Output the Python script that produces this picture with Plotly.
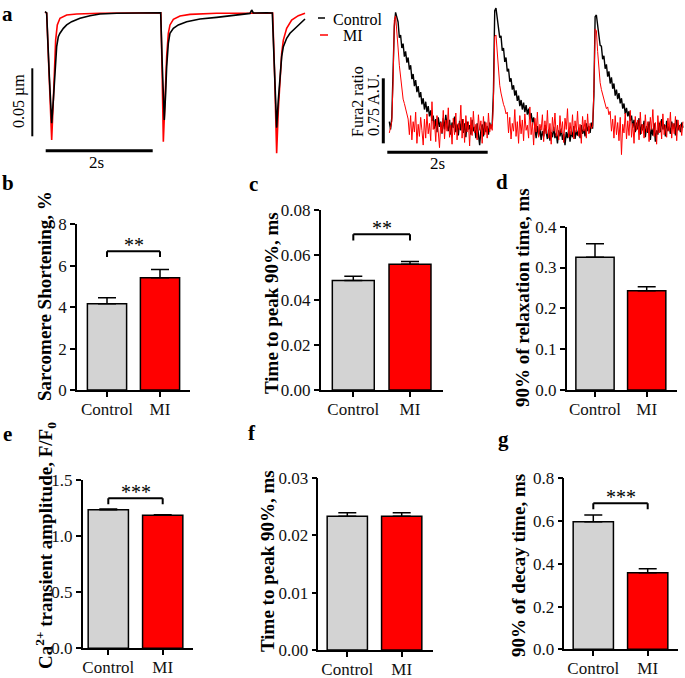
import plotly.graph_objects as go

W, H = 685, 678
SERIF = "Liberation Serif"

# ---- a (left): sarcomere length change, um, against time, s ----
sl_ctrl_t = [0.000, 0.031, 0.081, 0.125, 0.156, 0.187, 0.218, 0.249, 0.280, 0.343,
             0.405, 0.498, 0.654, 0.841, 1.028, 1.340, 1.650, 1.900, 2.100, 2.162,
             2.193, 2.230, 2.255, 2.274, 2.305, 2.336, 2.399, 2.492, 2.648, 2.897,
             3.209, 3.520, 3.832, 3.863, 3.894, 4.143, 4.237,
             4.249, 4.287, 4.330, 4.361, 4.393, 4.424, 4.455, 4.517, 4.579, 4.673,
             4.766, 4.860]
sl_ctrl = [0.0005, -0.0005, -0.047, -0.0816, -0.0645, -0.040, -0.0253, -0.0179, -0.0154, -0.0118,
           -0.0093, -0.0069, -0.0044, -0.0025, -0.0013, -0.0007, -0.0004, -0.0002, 0.0000, -0.0003,
           -0.040, -0.0792, -0.0596, -0.040, -0.0228, -0.0154, -0.0118, -0.0093, -0.0069, -0.0049,
           -0.0037, -0.0025, -0.0008, 0.0017, -0.0005, -0.0003, -0.0003,
           -0.0005, -0.040, -0.0848, -0.0645, -0.0449, -0.0326, -0.0253, -0.0191, -0.0154, -0.0118,
           -0.0081, -0.0049]
sl_mi_t = [0.000, 0.031, 0.081, 0.125, 0.156, 0.174, 0.199, 0.230, 0.280, 0.405,
           0.592, 1.028, 1.650, 2.150,
           2.165, 2.190, 2.212, 2.243, 2.274, 2.305, 2.336, 2.399, 2.523, 2.710,
           3.209, 3.800, 4.206,
           4.255, 4.293, 4.330, 4.361, 4.393, 4.424, 4.455, 4.517, 4.610, 4.735, 4.860]
sl_mi = [0.0000, -0.0005, -0.050, -0.0939, -0.0645, -0.040, -0.0204, -0.0093, -0.0044, -0.0020,
         -0.0013, -0.0007, -0.0003, -0.0003,
         -0.0003, -0.045, -0.0951, -0.0645, -0.0326, -0.0154, -0.0093, -0.0052, -0.0027, -0.0015,
         -0.0007, -0.0007, -0.0005,
         -0.0005, -0.047, -0.1037, -0.0718, -0.0473, -0.0301, -0.0204, -0.0118, -0.0057, -0.0025, -0.0007]

# ---- a (right): Fura2 ratio, A.U., one sample every 0.025 s ----
fura_dt = 0.025
fura_ctrl = [1.05, 0.96, 1.10, 1.55, 2.15, 2.31, 2.24, 2.20, 2.02, 2.05,
             1.90, 1.95, 1.80, 1.86, 1.73, 1.79, 1.65, 1.70, 1.54, 1.60,
             1.46, 1.53, 1.39, 1.46, 1.33, 1.39, 1.25, 1.32, 1.19, 1.28,
             1.16, 1.23, 1.11, 1.18, 1.06,
             1.12, 0.97, 1.08, 0.93, 1.10, 0.99, 1.05, 0.91, 1.09, 0.96,
             1.13, 1.00, 0.94, 1.07, 0.90, 1.04, 0.98, 1.11, 0.93, 1.02,
             0.89, 1.06, 0.95, 1.08, 0.92, 1.03, 0.87, 1.05, 0.96, 1.01,
             0.90, 1.07, 0.94, 0.99, 0.86, 1.03, 0.92, 0.78, 0.95, 1.02,
             0.88, 1.05, 0.93, 1.00, 0.90, 1.04, 0.97,
             1.02, 1.40, 2.33, 2.36,
             2.22, 2.16, 2.02, 2.04, 1.87, 1.90, 1.74, 1.79, 1.63, 1.66,
             1.51, 1.55, 1.42, 1.47, 1.35, 1.41, 1.29, 1.35, 1.23, 1.30,
             1.19, 1.27, 1.16, 1.24, 1.13, 1.20, 1.08, 1.15, 1.04, 1.10,
             0.95, 0.86, 1.00, 0.89, 0.97, 0.84, 0.94, 0.88, 1.01, 0.90,
             0.85, 0.96, 0.83, 0.93, 0.87, 0.99, 0.86, 0.92, 0.80, 0.95,
             0.88, 0.97, 0.84, 0.91, 0.78, 0.93, 0.86, 0.96, 0.82, 0.94,
             0.87, 1.00, 0.85, 0.95, 0.89, 0.98, 0.86, 1.01, 0.91, 0.97,
             0.88, 1.03, 0.94, 1.00, 0.92, 1.04,
             0.97, 1.35, 2.26, 2.28,
             2.17, 2.10, 1.93, 1.92, 1.77, 1.81, 1.66, 1.71, 1.57, 1.63,
             1.49, 1.56, 1.43, 1.49, 1.35, 1.42, 1.31, 1.38, 1.26, 1.32,
             1.20, 1.26, 1.14, 1.21, 1.11, 1.17, 1.06, 1.12,
             0.98, 1.07, 0.93, 1.04, 0.96, 1.09, 0.90, 1.02, 0.95, 1.06,
             0.87, 1.00, 0.92, 1.05, 0.84, 0.97, 0.89, 1.03, 0.82, 0.95,
             0.90, 1.04, 0.93, 1.08, 0.96, 1.02, 0.88, 1.06, 0.94, 1.00,
             0.91, 1.05, 0.97, 1.03, 0.89, 1.07, 0.95, 1.01, 0.93, 1.04,
             0.98]
fura_mi = [0.92, 0.98, 1.05, 1.50, 2.22, 2.27, 2.12, 1.90, 1.70, 1.54,
           1.42, 1.31, 1.26, 1.20, 1.17, 1.08,
           0.90, 1.12, 0.84, 1.05, 0.93, 1.16, 0.80, 1.02, 0.88, 1.10,
           0.95, 0.78, 1.08, 0.86, 1.14, 0.91, 1.03, 0.83, 1.28, 0.96,
           1.06, 0.82, 1.12, 0.88, 0.75, 1.04, 0.92, 1.18, 0.85, 1.07,
           0.94, 1.21, 0.87, 1.01, 0.79, 1.09, 0.90, 1.15, 0.84, 1.03,
           0.96, 1.24, 0.86, 1.08, 0.81, 1.12, 0.93, 1.05, 0.77, 1.10,
           0.89, 1.17, 0.92, 1.02, 0.84, 1.13, 0.95, 1.06, 0.80, 1.11,
           0.90, 1.04, 0.86, 1.15, 0.93, 1.02,
           0.95, 1.30, 2.03, 2.05,
           1.82, 1.62, 1.47, 1.38, 1.30, 1.25, 1.21, 1.14, 1.16,
           0.92, 1.10, 0.85, 1.03, 0.94, 1.19, 0.88, 1.05, 0.80, 1.12,
           0.91, 1.07, 0.83, 1.14, 0.95, 1.01, 0.86, 1.22, 0.90, 1.04,
           0.78, 1.09, 0.93, 1.16, 0.87, 1.02, 0.95, 1.13, 0.82, 1.06,
           0.91, 1.18, 0.86, 1.03, 0.79, 1.10, 0.94, 1.15, 0.88, 1.01,
           0.84, 1.12, 0.92, 1.05, 0.81, 1.09, 0.96, 1.20, 0.87, 1.04,
           0.90, 1.13, 0.85, 1.06, 0.93, 1.17, 0.88, 1.02, 0.80, 1.11,
           0.94, 1.07, 0.86, 1.14, 0.91, 1.03, 0.97,
           1.00, 1.40, 2.12, 2.10,
           1.86, 1.64, 1.50, 1.42, 1.36, 1.29, 1.26, 1.20, 1.22, 1.13, 1.17,
           0.94, 1.08, 0.86, 1.12, 0.90, 1.04, 0.83, 1.10, 0.67, 1.02,
           0.92, 1.15, 0.85, 1.06, 0.89, 1.18, 0.87, 1.03, 0.80, 1.11,
           0.95, 1.07, 0.84, 1.16, 0.91, 1.02, 0.86, 1.13, 0.93, 1.05,
           0.82, 1.10, 0.96, 1.19, 0.88, 1.04, 0.79, 1.12, 0.92, 1.06,
           0.85, 1.14, 0.90, 1.01, 0.87, 1.09, 0.94, 1.16, 0.86, 1.03,
           0.91, 1.11, 0.83, 1.07, 0.95, 1.02, 0.89, 1.05]

sl_bar_um = 0.05
fura_bar_au = 0.75
bar_s = 2

# ---- b-g: means and SEM ----
groups = ["Control", "MI"]
shortening = [4.17, 5.42]
shortening_sem = [0.28, 0.40]
sl_peak_time = [0.0487, 0.0559]
sl_peak_time_sem = [0.0018, 0.0012]
sl_relax_time = [0.325, 0.243]
sl_relax_time_sem = [0.033, 0.010]
ca_amplitude = [1.235, 1.185]
ca_amplitude_sem = [0.006, 0.005]
ca_peak_time = [0.0233, 0.0233]
ca_peak_time_sem = [0.0006, 0.0006]
ca_decay_time = [0.597, 0.358]
ca_decay_time_sem = [0.031, 0.019]


def fx(p):
    return p / W


def fy(p):
    return 1 - p / H


fig = go.Figure()
shapes = []
notes = []

# left traces: 53.5 px per s, 1360 px per um, origin at (45, 12.3)
fig.add_trace(go.Scatter(x=sl_mi_t, y=sl_mi, mode="lines", line=dict(color="red", width=1.6),
                         xaxis="x", yaxis="y"))
fig.add_trace(go.Scatter(x=sl_ctrl_t, y=sl_ctrl, mode="lines", line=dict(color="black", width=1.6),
                         xaxis="x", yaxis="y"))
# right traces: 50.2 px per s, 86.7 px per A.U., ratio 1.0 at py 126
fig.add_trace(go.Scatter(x=[i * fura_dt for i in range(len(fura_ctrl))], y=fura_ctrl, mode="lines",
                         line=dict(color="black", width=1.4), xaxis="x2", yaxis="y2"))
fig.add_trace(go.Scatter(x=[i * fura_dt for i in range(len(fura_mi))], y=fura_mi, mode="lines",
                         line=dict(color="red", width=1.0), xaxis="x2", yaxis="y2"))

hidden = dict(visible=False, fixedrange=True, automargin=False)
layout_axes = {
    "xaxis": dict(hidden, domain=[fx(28), fx(312)], range=[(28 - 45) / 53.5, (312 - 45) / 53.5]),
    "yaxis": dict(hidden, domain=[fy(165), fy(0)], range=[-(165 - 12.3) / 1360, 12.3 / 1360]),
    "xaxis2": dict(hidden, domain=[fx(370), fx(685)], range=[(370 - 389.3) / 50.2, (685 - 389.3) / 50.2]),
    "yaxis2": dict(hidden, domain=[fy(165), fy(0)], range=[1 + (126 - 165) / 86.7, 1 + 126 / 86.7]),
}

# scale bars
sx = (32.3 - 45) / 53.5
sy = -(68.3 - 12.3) / 1360
shapes.append(dict(type="line", xref="x", yref="y", x0=sx, x1=sx, y0=sy, y1=sy - sl_bar_um,
                   line=dict(color="black", width=2)))
hy = -(150.7 - 12.3) / 1360
shapes.append(dict(type="line", xref="x", yref="y", x0=0.013, x1=0.013 + bar_s, y0=hy, y1=hy,
                   line=dict(color="black", width=3)))
fx2 = (383.3 - 389.3) / 50.2
shapes.append(dict(type="line", xref="x2", yref="y2", x0=fx2, x1=fx2, y0=0.80, y1=0.80 + fura_bar_au,
                   line=dict(color="black", width=3)))
hy2 = 1 + (126 - 152.3) / 86.7
shapes.append(dict(type="line", xref="x2", yref="y2", x0=-0.04, x1=-0.04 + bar_s, y0=hy2, y1=hy2,
                   line=dict(color="black", width=3)))

# legend (short dashes as in the original)
shapes.append(dict(type="line", xref="paper", yref="paper", x0=fx(318), x1=fx(325), y0=fy(18), y1=fy(18),
                   line=dict(color="black", width=1.5)))
shapes.append(dict(type="line", xref="paper", yref="paper", x0=fx(320), x1=fx(328), y0=fy(35), y1=fy(35),
                   line=dict(color="red", width=1.5)))


def text(s, cx, cy, size=16, angle=0, bold=False):
    notes.append(dict(text="<b>%s</b>" % s if bold else s, x=fx(cx), y=fy(cy), xref="paper", yref="paper",
                      showarrow=False, textangle=angle, xanchor="center", yanchor="middle",
                      font=dict(family=SERIF, size=size, color="black")))


text("Control", 357, 19)
text("MI", 352.5, 36)
text("0.05 µm", 19, 101, angle=-90)
text("2s", 96, 162, size=17)
text("2s", 437, 164, size=17)
text("Fura2 ratio", 357, 102, angle=-90)
text("0.75 A.U.", 373, 105, angle=-90)

# bar panels: letter, values, sem, axis box px (x0, x1, ytop, ybottom), category px, ymax, dtick, format,
# title, title centre, significance level, stars
panels = [
    ("b", shortening, shortening_sem, (77, 190, 224.3, 390), (107, 160), 8, 2, "d",
     "Sarcomere Shortening, %", (45, 296), 6.70, "**"),
    ("c", sl_peak_time, sl_peak_time_sem, (320.7, 443, 210, 390), (353.3, 410), 0.08, 0.02, ".2f",
     "Time to peak 90%, ms", (272, 303), 0.0692, "**"),
    ("d", sl_relax_time, sl_relax_time_sem, (566.7, 676.7, 226.7, 390), (595, 646.7), 0.4, 0.1, ".1f",
     "90% of relaxation time, ms", (522, 298), None, ""),
    ("e", ca_amplitude, ca_amplitude_sem, (82.7, 193.3, 480, 648.3), (108.3, 162.7), 1.5, 0.5, ".1f",
     "Ca<sup>2+</sup> transient amplitude, F/F<sub>0</sub>", (45, 546), 1.337, "***"),
    ("f", ca_peak_time, ca_peak_time_sem, (318.3, 433.3, 477.7, 650), (347.3, 401.7), 0.03, 0.01, ".2f",
     "Time to peak 90%, ms", (267, 561), None, ""),
    ("g", ca_decay_time, ca_decay_time_sem, (564.3, 678.3, 478.3, 649.3), (593.3, 647.7), 0.8, 0.2, ".1f",
     "90% of decay time, ms", (518, 566), 0.683, "***"),
]
letters = {"a": (7, 14), "b": (8, 183), "c": (253, 184), "d": (502, 182), "e": (7, 434), "f": (252, 433),
           "g": (504, 439)}

axis_style = dict(showline=True, linecolor="black", linewidth=1.5, ticks="outside", ticklen=5, tickwidth=1.5,
                  tickcolor="black", showgrid=False, zeroline=False, fixedrange=True, automargin=False,
                  tickfont=dict(family=SERIF, size=17, color="#111"))

for k, (letter, vals, sem, box, cats, ymax, dtick, fmt, title, tpos, sig, stars) in enumerate(panels, start=3):
    x0, x1, yt, yb = box
    c0, c1 = cats
    step = c1 - c0
    fig.add_trace(go.Bar(x=groups, y=vals, width=0.74, xaxis="x%d" % k, yaxis="y%d" % k,
                         marker=dict(color=["#d3d3d3", "#ff0000"], line=dict(color="black", width=1.5)),
                         error_y=dict(type="data", symmetric=False, array=sem, arrayminus=[0, 0],
                                      color="black", thickness=1.5, width=9)))
    layout_axes["xaxis%d" % k] = dict(axis_style, domain=[fx(x0), fx(x1)], anchor="y%d" % k,
                                      range=[-(c0 - x0) / step, 1 + (x1 - c1) / step], ticklabelstandoff=-2)
    layout_axes["yaxis%d" % k] = dict(axis_style, domain=[fy(yb), fy(yt)], anchor="x%d" % k,
                                      range=[0, ymax], dtick=dtick, tickformat=fmt)
    text(title, tpos[0], tpos[1], size=19, angle=-90, bold=True)
    if sig is not None:
        drop = 0.035 * ymax
        for (a0, b0, a1, b1) in [(0, sig - drop, 0, sig), (0, sig, 1, sig), (1, sig, 1, sig - drop)]:
            shapes.append(dict(type="line", xref="x%d" % k, yref="y%d" % k, x0=a0, y0=b0, x1=a1, y1=b1,
                               line=dict(color="black", width=2)))
        notes.append(dict(text=stars, x=0.5, y=sig, xref="x%d" % k, yref="y%d" % k, showarrow=False,
                          xanchor="center", yanchor="bottom", yshift=-7,
                          font=dict(family=SERIF, size=20, color="black")))

for letter, (cx, cy) in letters.items():
    text(letter, cx, cy, size=21, bold=True)

fig.update_layout(template="none", width=W, height=H, margin=dict(l=0, r=0, t=0, b=0, autoexpand=False),
                  showlegend=False, plot_bgcolor="white", paper_bgcolor="white",
                  font=dict(family=SERIF, color="black"), shapes=shapes, annotations=notes,
                  **layout_axes)
# the page body has a default 8px margin; drop it so the figure sits at the window's corner
fig.write_html("out.html", config={"displayModeBar": False},
               post_script="document.body.style.margin='0';")
